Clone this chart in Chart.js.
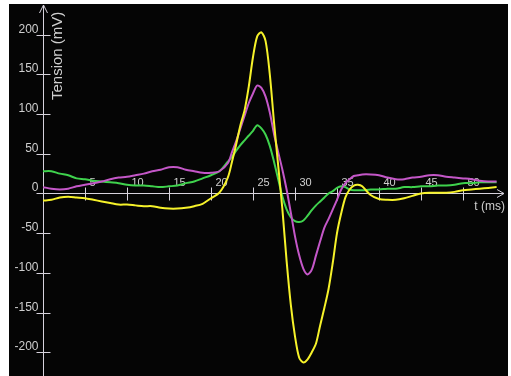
<!DOCTYPE html>
<html>
<head>
<meta charset="utf-8">
<script src="https://cdn.jsdelivr.net/npm/chart.js@4"></script>
<style>
  html, body { margin: 0; padding: 0; background: #ffffff; }
  #wrap { width: 511px; height: 376px; }
</style>
</head>
<body>
<div id="wrap"><canvas id="scope" width="511" height="376"></canvas></div>
<script>
// time axis (ms): 1 ms steps, half-steps around the spike
const timeMs = [
  0, 1, 2, 3, 4, 5, 6, 7, 8, 9, 10, 11, 12, 13, 14, 15, 16, 17, 18, 19, 20, 21,
  22, 22.5, 23, 23.5, 24, 24.5, 25, 25.5, 26, 26.5, 27, 27.5, 28, 28.5, 29, 29.5,
  30, 30.5, 31, 31.5, 32, 32.5, 33, 33.5, 34, 34.5, 35, 35.5, 36, 36.5, 37, 37.5,
  38, 39, 40, 41, 42, 43, 44, 45, 46, 47, 48, 49, 50, 51, 52, 53, 54
];

const yellowMv = [
  -9, -8, -5, -4, -5, -6, -8, -10, -12, -14, -14, -15, -16, -16, -18, -19, -19, -18, -16, -13, -6, 1,
  20, 40, 62, 86, 105, 135, 172, 198, 203, 192, 150, 90, 35, -20, -85, -140,
  -180, -207, -213, -209, -200, -189, -166, -144, -120, -87, -50, -25, -5, 5, 10, 11,
  9, -2, -7, -8, -8, -6, -3, 0, 1, 1, 1, 2, 4, 5, 6, 7, 8
];

const magentaMv = [
  8, 6, 5, 6, 9, 11, 13, 15, 18, 20, 21, 23, 25, 28, 30, 33, 33, 30, 28, 26, 26, 28,
  38, 52, 66, 82, 98, 114, 126, 136, 133, 122, 102, 75, 52, 30, 5, -24,
  -54, -78, -95, -102, -96, -78, -60, -43, -32, -20, -8, 5, 13, 18, 22, 23,
  24, 24, 23, 20, 18, 18, 20, 21, 23, 23, 21, 20, 19, 18, 16, 15, 15
];

const greenMv = [
  28, 28, 25, 23, 19, 18, 16, 15, 14, 13, 11, 10, 10, 9, 8, 9, 10, 13, 15, 19, 23, 28,
  40, 46, 54, 61, 67, 73, 79, 86, 82, 74, 60, 40, 18, -4, -20, -30,
  -35, -36, -34, -28, -21, -15, -10, -5, 0, 3, 7, 9, 8, 5, 4, 4,
  4, 5, 5, 6, 6, 8, 8, 9, 9, 10, 10, 11, 13, 13, 14, 14, 14
];

const yTicks = [-200, -150, -100, -50, 0, 50, 100, 150, 200];
const xTicks = [5, 10, 15, 20, 25, 30, 35, 40, 45, 50];

const axisColor = '#d6d2dc';
const labelColor = '#cfcfcf';

function toPoints(values) {
  return timeMs.map((t, i) => ({ x: t, y: values[i] }));
}

// black screen + hand-drawn axes through the chart's scales
const scopeAxes = {
  id: 'scopeAxes',
  beforeDraw(chart) {
    const ctx = chart.ctx;
    ctx.save();
    ctx.fillStyle = '#ffffff';
    ctx.fillRect(0, 0, chart.width, chart.height);
    ctx.fillStyle = '#050505';
    ctx.fillRect(9, 4, 499, chart.height - 4);
    ctx.restore();
  },
  beforeDatasetsDraw(chart) {
    const ctx = chart.ctx;
    const xs = chart.scales.x;
    const ys = chart.scales.y;
    const x0 = Math.round(xs.getPixelForValue(0)) + 0.5;
    const y0 = Math.round(ys.getPixelForValue(0)) + 0.5;
    const xEnd = 504;

    ctx.save();
    ctx.strokeStyle = axisColor;
    ctx.lineWidth = 1;

    // y axis + arrow
    ctx.beginPath();
    ctx.moveTo(x0, 5);
    ctx.lineTo(x0, chart.height);
    ctx.moveTo(x0 - 4, 13);
    ctx.lineTo(x0, 5);
    ctx.lineTo(x0 + 4, 13);
    // x axis + arrow
    ctx.moveTo(37, y0);
    ctx.lineTo(xEnd, y0);
    ctx.moveTo(xEnd - 7, y0 - 4);
    ctx.lineTo(xEnd, y0);
    ctx.lineTo(xEnd - 7, y0 + 4);
    ctx.stroke();

    ctx.font = '12px "Liberation Sans", Arial, sans-serif';
    ctx.fillStyle = labelColor;

    // y ticks
    ctx.textAlign = 'right';
    ctx.textBaseline = 'middle';
    yTicks.forEach(v => {
      const py = Math.round(ys.getPixelForValue(v)) + 0.5;
      ctx.beginPath();
      ctx.moveTo(x0 - 7, py);
      ctx.lineTo(x0 + 7, py);
      ctx.stroke();
      ctx.fillText(String(v), x0 - 5, py - 6);
    });

    // x ticks
    ctx.font = '11px "Liberation Sans", Arial, sans-serif';
    ctx.textAlign = 'left';
    xTicks.forEach(t => {
      const px = Math.round(xs.getPixelForValue(t)) + 0.5;
      ctx.beginPath();
      ctx.moveTo(px, y0 - 6);
      ctx.lineTo(px, y0 + 7);
      ctx.stroke();
      ctx.fillText(String(t), px + 4, y0 - 11);
    });

    // axis titles
    ctx.font = '12px "Liberation Sans", Arial, sans-serif';
    ctx.textAlign = 'right';
    ctx.fillText('t (ms)', 505, y0 + 13);

    ctx.font = '15px "Liberation Sans", Arial, sans-serif';
    ctx.translate(x0 + 14, 100);
    ctx.rotate(-Math.PI / 2);
    ctx.textAlign = 'left';
    ctx.textBaseline = 'middle';
    ctx.fillText('Tension (mV)', 0, 0);
    ctx.restore();
  }
};

function lineSet(label, values, color) {
  return {
    label: label,
    data: toPoints(values),
    borderColor: color,
    borderWidth: 2,
    pointRadius: 0,
    tension: 0.3,
    fill: false
  };
}

new Chart(document.getElementById('scope'), {
  type: 'line',
  data: {
    datasets: [
      lineSet('jaune', yellowMv, '#f6f22a'),
      lineSet('magenta', magentaMv, '#c457c8'),
      lineSet('vert', greenMv, '#3fd24d')
    ]
  },
  options: {
    responsive: false,
    devicePixelRatio: 1,
    animation: false,
    layout: { padding: { left: 43, right: 6, top: 3, bottom: 0 } },
    plugins: {
      legend: { display: false },
      tooltip: { enabled: false }
    },
    scales: {
      x: { type: 'linear', min: 0, max: 55, display: false },
      y: { min: -230, max: 240, display: false }
    }
  },
  plugins: [scopeAxes]
});
</script>
</body>
</html>
